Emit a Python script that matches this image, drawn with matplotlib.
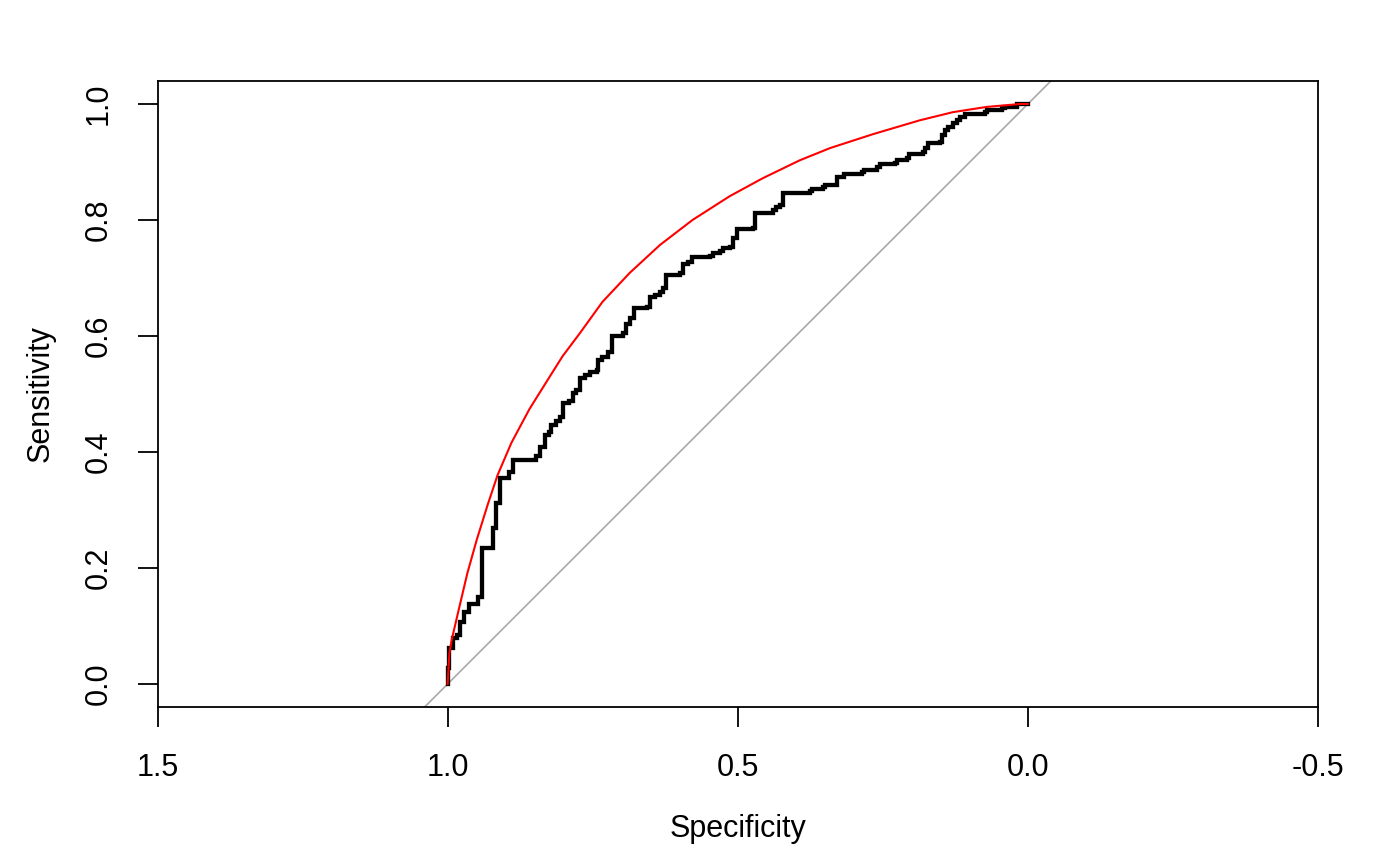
import numpy as np
import matplotlib
matplotlib.use('Agg')
import matplotlib.pyplot as plt

plt.rcParams['font.family'] = ['Liberation Sans', 'DejaVu Sans']

# ROC 계단: 세로로 올라가는 지점의 specificity, 올라간 뒤의 sensitivity
step_spec = [1.000, 0.997, 0.991, 0.984, 0.978, 0.971, 0.964, 0.948, 0.940, 0.922,
	0.916, 0.909, 0.895, 0.888, 0.848, 0.840, 0.833, 0.826, 0.821, 0.814,
	0.807, 0.802, 0.790, 0.784, 0.778, 0.771, 0.764, 0.755, 0.743, 0.740,
	0.734, 0.724, 0.716, 0.698, 0.693, 0.686, 0.679, 0.657, 0.652, 0.643,
	0.634, 0.629, 0.624, 0.600, 0.595, 0.586, 0.578, 0.548, 0.543, 0.531,
	0.526, 0.514, 0.509, 0.502, 0.474, 0.471, 0.440, 0.434, 0.428, 0.422,
	0.376, 0.372, 0.353, 0.350, 0.329, 0.316, 0.286, 0.283, 0.260, 0.255,
	0.229, 0.226, 0.209, 0.205, 0.181, 0.178, 0.172, 0.152, 0.148, 0.143,
	0.138, 0.129, 0.122, 0.117, 0.109, 0.074, 0.071, 0.045, 0.040, 0.019]
step_sens = [0.028, 0.062, 0.079, 0.084, 0.107, 0.124, 0.138, 0.150, 0.234, 0.269,
	0.312, 0.355, 0.366, 0.386, 0.393, 0.409, 0.429, 0.434, 0.447, 0.453,
	0.460, 0.484, 0.488, 0.502, 0.507, 0.528, 0.533, 0.538, 0.541, 0.559,
	0.564, 0.572, 0.600, 0.605, 0.621, 0.631, 0.648, 0.650, 0.667, 0.671,
	0.676, 0.683, 0.705, 0.709, 0.724, 0.728, 0.736, 0.738, 0.743, 0.747,
	0.752, 0.753, 0.769, 0.784, 0.786, 0.812, 0.817, 0.822, 0.826, 0.847,
	0.850, 0.853, 0.857, 0.860, 0.874, 0.879, 0.883, 0.886, 0.891, 0.897,
	0.898, 0.903, 0.907, 0.914, 0.917, 0.924, 0.933, 0.934, 0.947, 0.955,
	0.960, 0.967, 0.972, 0.978, 0.983, 0.986, 0.990, 0.993, 0.995, 1.000]

# 스무딩된 ROC (빨간 선)
smooth_spec = [1.000, 0.997, 0.993, 0.979, 0.966, 0.950, 0.931, 0.914, 0.890, 0.859,
	0.829, 0.802, 0.772, 0.733, 0.686, 0.634, 0.578, 0.514, 0.457, 0.393,
	0.341, 0.267, 0.186, 0.129, 0.071, 0.014, 0.000]
smooth_sens = [0.000, 0.053, 0.076, 0.136, 0.191, 0.248, 0.309, 0.360, 0.416, 0.474,
	0.522, 0.565, 0.605, 0.659, 0.709, 0.757, 0.800, 0.841, 0.872, 0.903,
	0.924, 0.948, 0.972, 0.986, 0.995, 1.000, 1.000]

x_ticks = [1.5, 1.0, 0.5, 0.0, -0.5]
y_ticks = [0.0, 0.2, 0.4, 0.6, 0.8, 1.0]


def roc_chart(imgfilename):
	# 계단 좌표 만들기: (spec, 이전 sens) -> (spec, 새 sens) -> 다음 spec
	xs = [step_spec[0]]
	ys = [0.0]
	for i in range(len(step_spec)):
		xs.append(step_spec[i])
		ys.append(step_sens[i])
		nxt = step_spec[i + 1] if i + 1 < len(step_spec) else 0.0
		xs.append(nxt)
		ys.append(step_sens[i])

	fig = plt.figure(figsize=(14, 8.65), dpi=100)
	ax = fig.add_axes([0.1125, 0.1832, 0.8289, 0.7237])
	ax.set_xlim(1.5, -0.5)
	ax.set_ylim(-0.0388, 1.0405)

	ax.axline((1, 0), (0, 1), color='#A9A9A9', lw=1.2, zorder=1)
	ax.plot(xs, ys, color='black', lw=3.1, solid_joinstyle='miter', zorder=2)
	ax.plot(smooth_spec, smooth_sens, color='red', lw=1.5, zorder=3)

	ax.set_xticks(x_ticks)
	ax.set_xticklabels(['1.5', '1.0', '0.5', '0.0', '-0.5'])
	ax.set_yticks(y_ticks)
	ax.set_yticklabels(['0.0', '0.2', '0.4', '0.6', '0.8', '1.0'], rotation=90, va='center')
	ax.tick_params(axis='x', length=14.5, width=1.3, pad=19, labelsize=22)
	ax.tick_params(axis='y', length=14.5, width=1.3, pad=17, labelsize=22)
	for s in ax.spines.values():
		s.set_linewidth(1.3)

	ax.set_xlabel('Specificity', fontsize=22, labelpad=22)
	ax.set_ylabel('Sensitivity', fontsize=22, labelpad=20)

	plt.savefig(imgfilename)
	plt.close()


if __name__ == '__main__':
	roc_chart('out.png')
